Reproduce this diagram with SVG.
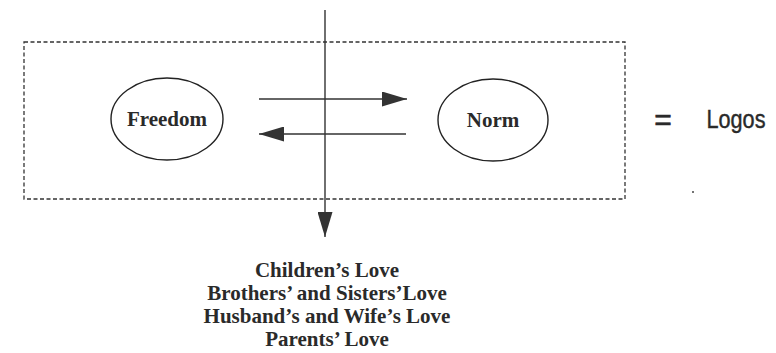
<svg xmlns="http://www.w3.org/2000/svg" width="776" height="353" viewBox="0 0 776 353">
<style>
.node{fill:#fff;stroke:#222;stroke-width:1.4}
.lbl{font-family:"Liberation Serif","Times New Roman",serif;font-weight:bold;font-size:21px;fill:#2a2a2a;text-anchor:middle}
.conn{stroke:#333;stroke-width:1.4;fill:none}
.sans{font-family:"Liberation Sans",Arial,sans-serif;fill:#2a2a2a;text-anchor:middle}
</style>
<defs>
<marker id="ahL" markerWidth="25" markerHeight="15" refX="25" refY="7.5" orient="auto" markerUnits="userSpaceOnUse" viewBox="0 0 25 15">
<path d="M0,0 L25,7.5 L0,15 Z" fill="#333"/>
</marker>
</defs>
<rect width="776" height="353" fill="#fff"/>
<g id="frame">
<rect x="24" y="42" width="601" height="157" fill="none" stroke="#333" stroke-width="1.3" stroke-dasharray="4,2.5"/>
</g>
<g id="freedom">
<ellipse class="node" cx="167" cy="119" rx="56" ry="41"/>
<text class="lbl" x="167" y="126">Freedom</text>
</g>
<g id="norm">
<ellipse class="node" cx="493" cy="120" rx="55" ry="41"/>
<text class="lbl" x="493" y="127">Norm</text>
</g>
<g id="logos">
<text class="sans" x="663" y="130" font-size="30" stroke="#2a2a2a" stroke-width="0.6">=</text>
<text class="sans" x="736" y="128" font-size="25" textLength="59" lengthAdjust="spacingAndGlyphs" stroke="#2a2a2a" stroke-width="0.4">Logos</text>
<circle cx="693" cy="192" r="1" fill="#444"/>
</g>
<g id="loves">
<text class="lbl" x="327" y="277">Children’s Love</text>
<text class="lbl" x="327" y="300">Brothers’ and Sisters’Love</text>
<text class="lbl" x="327" y="323">Husband’s and Wife’s Love</text>
<text class="lbl" x="327" y="346">Parents’ Love</text>
</g>
<g id="connectors">
<line class="conn" x1="259" y1="99" x2="407" y2="99" marker-end="url(#ahL)"/>
<line class="conn" x1="406" y1="134" x2="259" y2="134" marker-end="url(#ahL)"/>
<line class="conn" x1="325" y1="10" x2="325" y2="237" marker-end="url(#ahL)"/>
</g>
</svg>
